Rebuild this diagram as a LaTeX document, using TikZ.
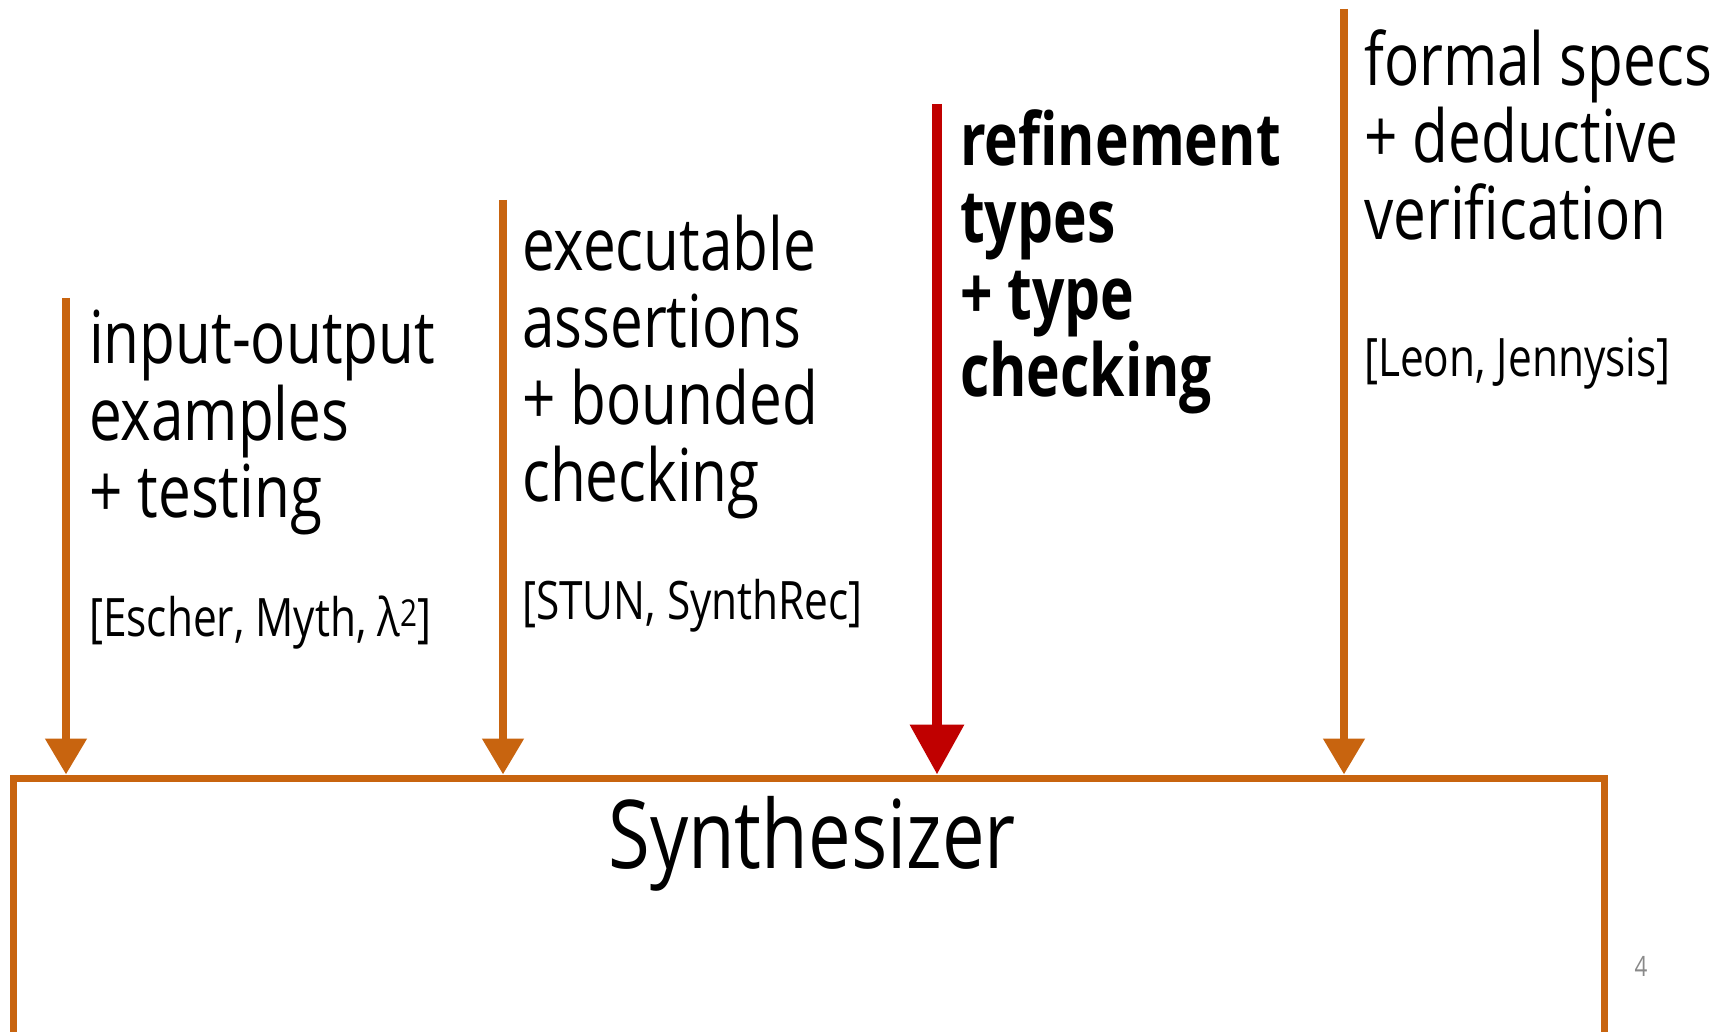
\documentclass[tikz,border=0pt]{standalone}
\usepackage{fontspec}
\setmainfont{Open Sans}[FakeStretch=0.8,BoldFeatures={FakeStretch=0.78}]
\usetikzlibrary{arrows.meta}
\definecolor{specorange}{RGB}{200,100,15}
\definecolor{typered}{RGB}{192,0,0}
\definecolor{pagegray}{RGB}{137,137,137}

\begin{document}
\begin{tikzpicture}[x=1pt,y=-1pt,
  spec/.style={draw=specorange,line width=8pt,-{Triangle[width=40pt,length=36pt]}},
  spectype/.style={draw=typered,line width=10pt,-{Triangle[width=52pt,length=50pt]}},
  desc/.style={anchor=base west,inner sep=0pt,align=left,font=\fontsize{73}{77}\selectfont},
  cite/.style={anchor=base west,inner sep=0pt,font=\fontsize{53}{56}\selectfont}]
\useasboundingbox (0,0) rectangle (1719,1032);
\clip (0,0) rectangle (1719,1032);
\fill[white] (0,0) rectangle (1719,1032);
\node[draw=specorange,line width=7pt,inner sep=0pt,minimum width=1591pt,minimum height=400pt,anchor=north] (synth) at (808.5,774.5) {};
\node[anchor=base,inner sep=0pt,font=\fontsize{95}{100}\selectfont] (synthLabel) at (812,868) {Synthesizer};
\node[anchor=base,inner sep=0pt,text=pagegray,font=\fontsize{28}{30}\selectfont] (pageNo) at (1641,976) {4};

\coordinate (ioTop) at (66,298);
\coordinate (assertTop) at (503,200);
\coordinate (refineTop) at (937,104);
\coordinate (formalTop) at (1344,9);

% multi-line nodes sit on the baseline of their last line
\node[desc] (ioText) at (89,517) {input-output\\examples\\+ testing};
\node[cite] (ioCite) at (89,636) {[Escher, Myth, λ\textsuperscript{2}]};
\node[desc] (assertText) at (522,501) {executable\\assertions\\+ bounded\\checking};
\node[cite] (assertCite) at (522,619) {[STUN, SynthRec]};
\node[desc,font=\fontsize{73}{77}\selectfont\bfseries] (refineText) at (960,396) {refinement\\types\\+ type\\checking};
\node[desc] (formalText) at (1364,240) {formal specs\\+ deductive\\verification};
\node[cite] (formalCite) at (1364,376) {[Leon, Jennysis]};

\draw[spec] (ioTop) -- (ioTop |- synth.north);
\draw[spec] (assertTop) -- (assertTop |- synth.north);
\draw[spectype] (refineTop) -- (refineTop |- synth.north);
\draw[spec] (formalTop) -- (formalTop |- synth.north);
\end{tikzpicture}
\end{document}
